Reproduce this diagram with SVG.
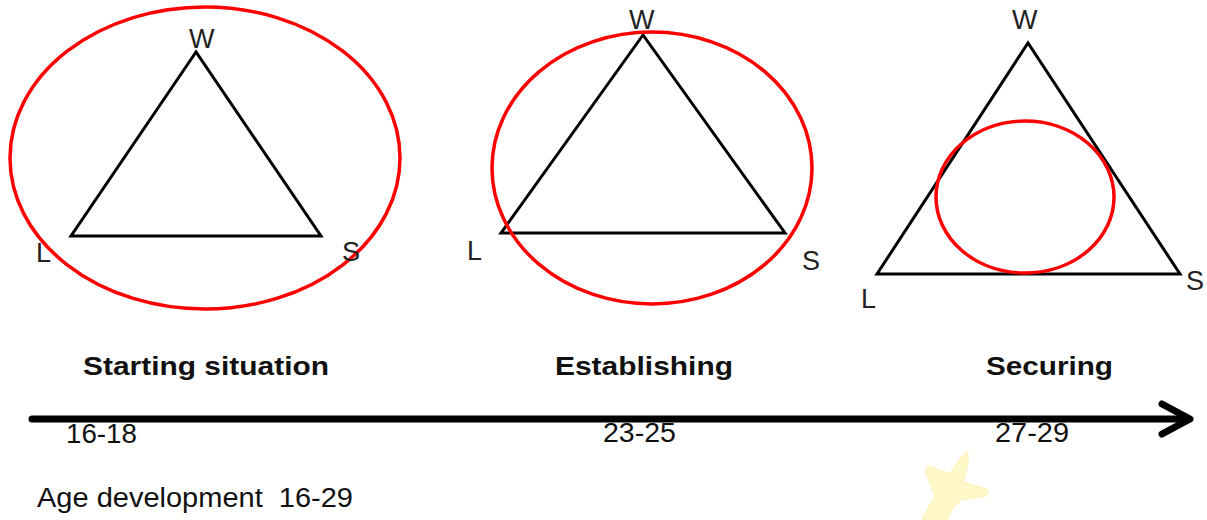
<svg xmlns="http://www.w3.org/2000/svg" width="1207" height="520" viewBox="0 0 1207 520">
<style>
.tri{fill:none;stroke:#000;stroke-width:3;stroke-linejoin:miter}
.ell{fill:none;stroke:#f00;stroke-width:3.5}
.v{font-family:"Liberation Sans",Arial,sans-serif;font-size:27px;fill:#222}
.h{font-family:"Liberation Sans",Arial,sans-serif;font-size:25px;font-weight:bold;fill:#111}
.n{font-family:"Liberation Sans",Arial,sans-serif;font-size:27px;fill:#111}
.ax{stroke:#000;stroke-width:7;fill:none;stroke-linecap:round;stroke-linejoin:round}
</style>
<rect width="1207" height="520" fill="#fff"/>
<g id="stage1">
<polygon class="tri" points="196,52 71,236 321,236"/>
<ellipse class="ell" cx="205" cy="158" rx="195" ry="151"/>
<text class="v" x="189" y="48">W</text>
<text class="v" x="36" y="262">L</text>
<text class="v" x="342" y="261">S</text>
<text class="h" x="83" y="375" textLength="246" lengthAdjust="spacingAndGlyphs">Starting situation</text>
</g>
<g id="stage2">
<polygon class="tri" points="643,35 501,233 785,233"/>
<ellipse class="ell" cx="652" cy="168" rx="160" ry="136"/>
<text class="v" x="629" y="29">W</text>
<text class="v" x="467" y="260">L</text>
<text class="v" x="802" y="270">S</text>
<text class="h" x="555" y="375" textLength="178" lengthAdjust="spacingAndGlyphs">Establishing</text>
</g>
<g id="stage3">
<polygon class="tri" points="1028,43 877,274 1180,274"/>
<ellipse class="ell" cx="1025" cy="197" rx="89" ry="76"/>
<text class="v" x="1012" y="29">W</text>
<text class="v" x="861" y="308">L</text>
<text class="v" x="1186" y="290">S</text>
<text class="h" x="986" y="375" textLength="127" lengthAdjust="spacingAndGlyphs">Securing</text>
</g>
<g id="connectors">
<line class="ax" x1="32" y1="419" x2="1188" y2="419" stroke-linecap="butt"/>
<polyline class="ax" points="1162,404 1190,419 1162,434" stroke-width="8"/>
</g>
<g id="labels">
<text class="n" x="66" y="443" textLength="71" lengthAdjust="spacingAndGlyphs">16-18</text>
<text class="n" x="603" y="442" textLength="73" lengthAdjust="spacingAndGlyphs">23-25</text>
<text class="n" x="995" y="442" textLength="74" lengthAdjust="spacingAndGlyphs">27-29</text>
<text class="n" x="37" y="507" textLength="316" lengthAdjust="spacingAndGlyphs" xml:space="preserve">Age development  16-29</text>
</g>
<path d="M967,452 Q970,456 966,470 L963,482 Q975,486 986,489 Q991,494 985,496 L961,500 Q952,506 947,520 L922,520 Q928,508 935,496 Q931,484 926,473 Q925,466 931,467 L950,474 Q960,458 967,452 Z" fill="#fff8c8" stroke="#fff4c0" stroke-width="1.5" stroke-linejoin="round"/>
</svg>
